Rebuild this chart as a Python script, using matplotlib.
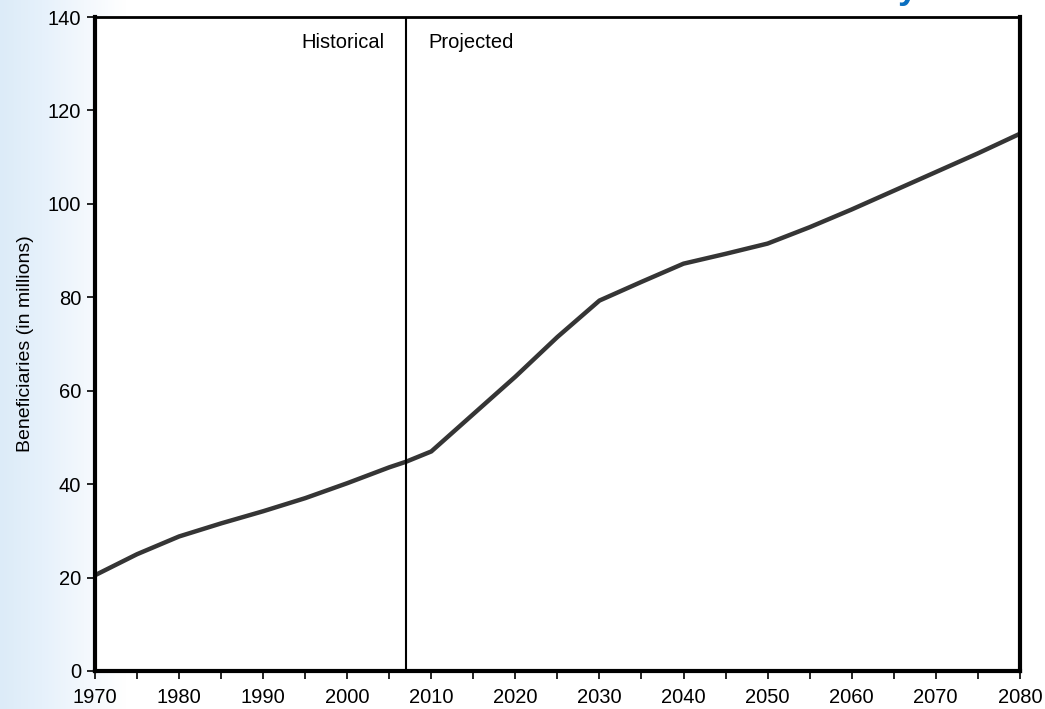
import matplotlib.pyplot as plt
import numpy as np
from matplotlib.colors import LinearSegmentedColormap
from matplotlib.ticker import MultipleLocator

plt.rcParams['font.family'] = ['Liberation Sans', 'DejaVu Sans']

years = [1970, 1975, 1980, 1985, 1990, 1995, 2000, 2005, 2007, 2010, 2015,
         2020, 2025, 2030, 2035, 2040, 2045, 2050, 2055, 2060, 2065, 2070,
         2075, 2080]
beneficiaries = [20.5, 25.0, 28.8, 31.6, 34.2, 37.0, 40.2, 43.6, 44.8, 47.0,
                 55.0, 63.0, 71.5, 79.3, 83.3, 87.2, 89.3, 91.5, 95.0, 98.8,
                 102.8, 106.8, 110.8, 115.0]
split_year = 2007

fig = plt.figure(figsize=(10.45, 7.09), dpi=100)

# pale blue slide background, only on the left edge
bg = fig.add_axes([0, 0, 1, 1], zorder=-10)
grad = np.linspace(0, 1, 256).reshape(1, -1)
cmap = LinearSegmentedColormap.from_list('bg', ['#dcebf8', '#e6f1fb', '#f3f8fd', '#ffffff'])
bg.imshow(grad, aspect='auto', cmap=cmap, extent=[0, 0.12, 0, 1])
bg.set_xlim(0, 1)
bg.set_ylim(0, 1)
bg.set_axis_off()
# tail of the cut-off slide title
fig.text(0.859, 1.0035, 'y', color='#0a6fc0', fontsize=26, fontweight='bold',
         va='baseline', ha='left')

ax = fig.add_axes([0.0909, 0.0536, 0.885, 0.9224])
ax.set_facecolor('white')
ax.plot(years, beneficiaries, color='#353535', linewidth=3.2, solid_capstyle='round')
ax.axvline(split_year, color='black', linewidth=1.5)

ax.text(split_year - 2.6, 134.5, 'Historical', ha='right', va='center', fontsize=14.5)
ax.text(split_year + 2.6, 134.5, 'Projected', ha='left', va='center', fontsize=14.5)

ax.set_xlim(1970, 2080)
ax.set_ylim(0, 140)
ax.xaxis.set_major_locator(MultipleLocator(10))
ax.xaxis.set_minor_locator(MultipleLocator(5))
ax.yaxis.set_major_locator(MultipleLocator(20))
ax.tick_params(axis='both', which='both', direction='out', length=6, width=1.2,
               labelsize=14.5, top=False, right=False)
ax.tick_params(axis='x', pad=6.5)
ax.tick_params(axis='y', pad=4)
ax.set_ylabel('Beneficiaries (in millions)', fontsize=14, labelpad=10)

for side in ['left', 'bottom', 'right']:
    ax.spines[side].set_linewidth(3)
ax.spines['top'].set_linewidth(2)

fig.savefig('out.png', dpi=100)
